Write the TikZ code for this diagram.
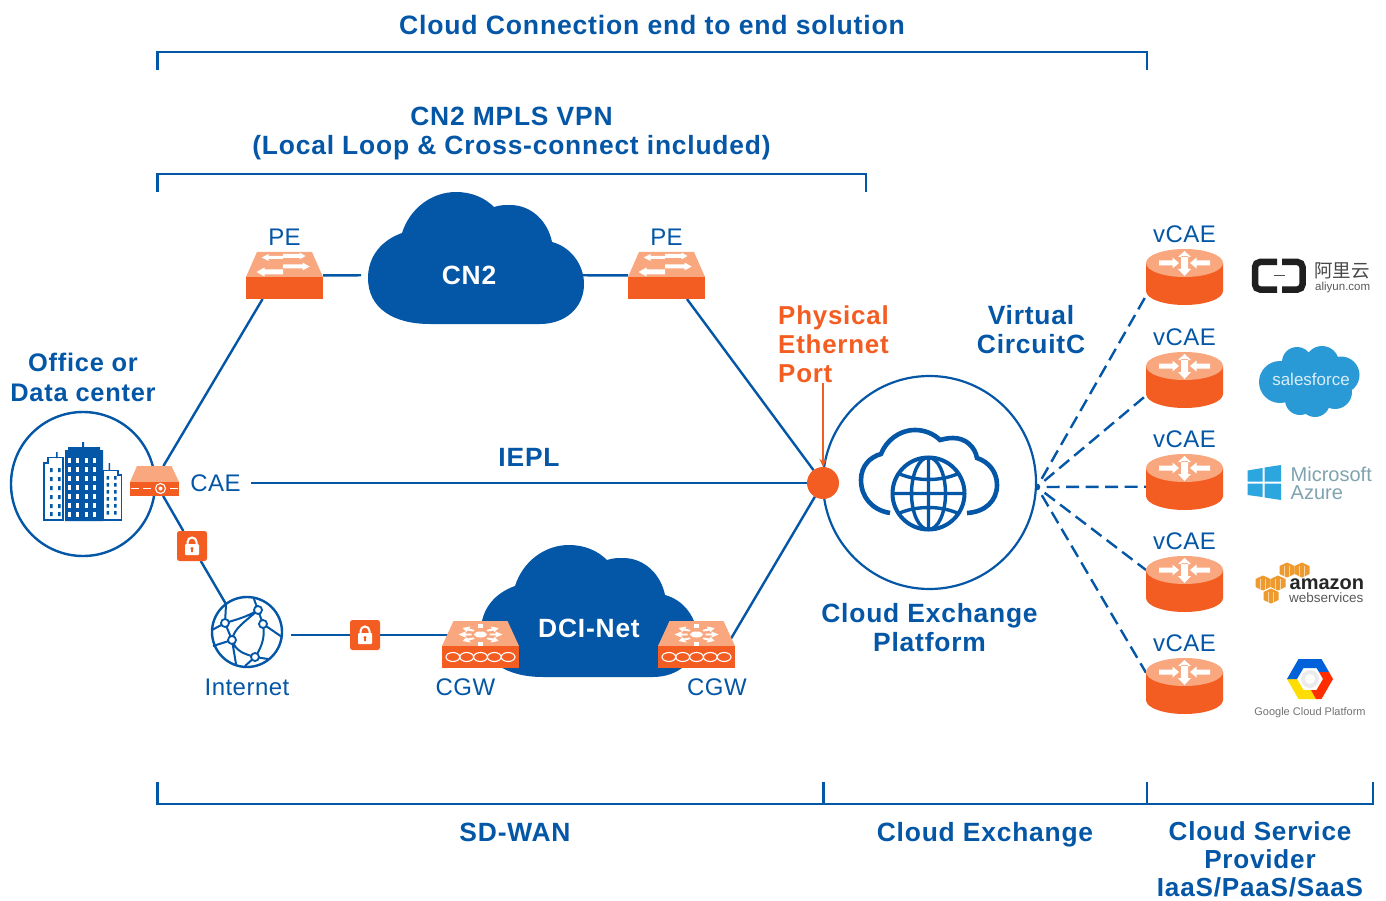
\documentclass[tikz,border=0pt]{standalone}
\usepackage{fontspec}
\usetikzlibrary{calc,arrows.meta}
\setmainfont{Liberation Sans}
\newfontfamily\lsb[LetterSpace=3]{Liberation Sans Bold}
\newfontfamily\lsr[LetterSpace=2]{Liberation Sans}
\newfontfamily\cjkf{Noto Sans CJK SC}
\definecolor{cblue}{HTML}{0456A6}
\definecolor{corange}{HTML}{F45D22}
\definecolor{clight}{HTML}{F9A77F}
\definecolor{sfblue}{HTML}{2A9AD6}
\definecolor{azblue}{HTML}{2BA6DE}
\definecolor{aztext}{HTML}{7FA3AF}
\definecolor{awsor}{HTML}{EE9A2E}
\pgfdeclarelayer{bg}
\pgfsetlayers{bg,main}
\tikzset{
  hit/.style 2 args={rectangle,inner sep=0pt,outer sep=0pt,minimum width=#1pt,minimum height=#2pt},
  boldlab/.style={font=\lsb\fontsize{26.4}{29.2}\selectfont,text=cblue,align=center,inner sep=0pt},
  reglab/.style={font=\lsr\fontsize{24}{28}\selectfont,text=cblue,align=center,inner sep=0pt},
  link/.style={draw=cblue,line width=2.4pt},
  vlink/.style={draw=cblue,line width=2.4pt,dash pattern=on 13pt off 6.5pt,dash phase=10pt},
  brk/.style={draw=cblue,line width=2.2pt},
  ring/.style={circle,draw=cblue,line width=2.4pt,inner sep=0pt,outer sep=0pt,fill=white},
  wline/.style={draw=white,line width=1.1pt},
  cloudshape/.pic={
    \fill[cblue] (-46,49) .. controls (-83,49) and (-108,33) .. (-108,3) .. controls (-108,-19) and (-94,-35) .. (-74,-42)
      .. controls (-66,-67) and (-44,-83) .. (-20,-83) .. controls (-4,-83) and (9,-77) .. (18,-68)
      .. controls (24,-70) and (29,-70) .. (34,-70) .. controls (56,-70) and (72,-53) .. (76,-33)
      .. controls (95,-28) and (108,-10) .. (108,9) .. controls (108,33) and (89,49) .. (64,49) -- cycle;
  },
  peicon/.pic={
    \fill[clight] (-38.5,1.5) -- (-27.5,-23.5) -- (27.5,-23.5) -- (38.5,1.5) -- cycle;
    \fill[corange] (-38.5,1.5) rectangle (38.5,23.5);
    \fill[white] (-1.5,-19.5) -- (-1.5,-16.5) -- (-16,-16.5) -- (-16,-14.5) -- (-23,-18) -- (-16,-21.5) -- (-16,-19.5) -- cycle;
    \fill[white] (-1.5,-21.5) rectangle (15,-17.5) (15,-23) -- (21,-19.5) -- (15,-16) -- cycle;
    \fill[white] (-1.5,-6) rectangle (-20,-1) (-20,-8) -- (-28,-3.5) -- (-20,1) -- cycle;
    \fill[white] (-1.5,-11) rectangle (18,-7) (18,-13) -- (25,-9) -- (18,-5) -- cycle;
  },
  cgwicon/.pic={
    \fill[clight] (-38.5,1.5) -- (-27,-23.5) -- (27,-23.5) -- (38.5,1.5) -- cycle;
    \fill[corange] (-38.5,1.5) rectangle (38.5,23.5);
    \fill[white] (0,-10) ellipse (6.5pt and 3pt);
    \fill[white] (9,-10.8) rectangle (15,-9.2) (15,-13) -- (22,-10) -- (15,-7) -- cycle;
    \fill[white] (-9,-10.8) rectangle (-15,-9.2) (-15,-13) -- (-22,-10) -- (-15,-7) -- cycle;
    \fill[white] (-2.5,-21) rectangle (2.5,-17);
    \fill[white] (-18,-16.5) -- (-10,-18) -- (-11.5,-16) -- (-6,-14.5) -- (-7,-13) -- (-13,-14) -- (-14,-12.5) -- cycle;
    \fill[white] (18,-16.5) -- (10,-18) -- (11.5,-16) -- (6,-14.5) -- (7,-13) -- (13,-14) -- (14,-12.5) -- cycle;
    \fill[white] (-18,-3.5) -- (-10,-2) -- (-11.5,-4) -- (-6,-5.5) -- (-7,-7) -- (-13,-6) -- (-14,-7.5) -- cycle;
    \fill[white] (18,-3.5) -- (10,-2) -- (11.5,-4) -- (6,-5.5) -- (7,-7) -- (13,-6) -- (14,-7.5) -- cycle;
    \fill[white] (-2.5,-3) rectangle (2.5,1);
    \foreach \x in {-27.6,-13.8,0,13.8,27.6}{\draw[wline] (\x,12.5) ellipse (6.9pt and 4.5pt);}
  },
  vcaeicon/.pic={
    \fill[corange] (-38.5,-14) -- (-38.5,14) arc[start angle=180,end angle=0,x radius=38.5,y radius=14] -- (38.5,-14) -- cycle;
    \fill[clight] (0,-14) ellipse (38.5pt and 14pt);
    \fill[white] (-25.5,-16.5) rectangle (-12,-11.5) (-12,-19.5) -- (-5.5,-14) -- (-12,-8.5) -- cycle;
    \fill[white] (25.5,-16.5) rectangle (12,-11.5) (12,-19.5) -- (5.5,-14) -- (12,-8.5) -- cycle;
    \fill[white] (-3.5,-21) rectangle (3.5,-7) (-6.5,-20) -- (0,-26) -- (6.5,-20) -- cycle (-6.5,-8) -- (0,-1) -- (6.5,-8) -- cycle;
  },
  lockicon/.pic={
    \fill[corange,rounded corners=2.5pt] (-15,-15) rectangle (15,15);
    \draw[white,line width=2pt] (-4.5,-1) -- (-4.5,-4) arc[start angle=180,end angle=360,radius=4.5] -- (4.5,-1);
    \fill[white,rounded corners=1pt] (-7,-2) rectangle (7,9);
    \fill[corange] (0,2.5) circle (1.7pt) (-.8,2.5) rectangle (.8,6);
  },
  awscube/.pic={
    \fill[awsor] (-7.5,-4) -- (0,-7.5) -- (7.5,-4) -- (7.5,4) -- (0,7.5) -- (-7.5,4) -- cycle;
    \draw[white!60!awsor,line width=.7pt] (-2.5,-4) -- (-2.5,6) (2.5,-4) -- (2.5,6);
  }
}
\begin{document}
\begin{tikzpicture}[x=1pt,y=-1pt]
\useasboundingbox (0,0) rectangle (1386,901);
\begin{pgfonlayer}{bg}
\fill[white] (0,0) rectangle (1386,901);
\end{pgfonlayer}

% --- brackets
\coordinate (b1a) at (157.5,70); \coordinate (b1b) at (157.5,52); \coordinate (b1c) at (1147,52); \coordinate (b1d) at (1147,70);
\draw[brk] (b1a) -- (b1b) -- (b1c) -- (b1d);
\coordinate (b2a) at (157.5,192); \coordinate (b2b) at (157.5,174); \coordinate (b2c) at (866,174); \coordinate (b2d) at (866,192);
\draw[brk] (b2a) -- (b2b) -- (b2c) -- (b2d);
\coordinate (b3a) at (157.5,782); \coordinate (b3b) at (157.5,804); \coordinate (b3c) at (1373,804); \coordinate (b3d) at (1373,782);
\coordinate (b3e) at (823.5,782); \coordinate (b3f) at (823.5,804); \coordinate (b3g) at (1147,782); \coordinate (b3h) at (1147,804);
\draw[brk] (b3a) -- (b3b) -- (b3c) -- (b3d) (b3e) -- (b3f) (b3g) -- (b3h);

% --- headings
\node[boldlab,font=\lsb\fontsize{26.6}{29.2}\selectfont] (title) at (652,24.5) {Cloud Connection end to end solution};
\node[boldlab] (mpls) at (511.5,133.5) {CN2 MPLS VPN\\(Local Loop \& Cross-connect included)};
\node[boldlab,font=\lsb\fontsize{25.4}{29.2}\selectfont] (office) at (83,377.5) {Office or\\Data center};
\node[boldlab] (iepl) at (529,457.5) {IEPL};
\node[boldlab,text=corange,align=left,anchor=west,font=\lsb\fontsize{25.9}{29.2}\selectfont] (phys) at (778,344) {Physical\\Ethernet\\Port};
\node[boldlab] (vc) at (1031,329.5) {Virtual\\CircuitC};
\node[boldlab] (cxp) at (929.5,627.5) {Cloud Exchange\\Platform};
\node[boldlab] (sdwan) at (515,832) {SD-WAN};
\node[boldlab] (cx) at (985,834.5) {Cloud Exchange};
\node[boldlab,font=\lsb\fontsize{26.1}{28}\selectfont] (csp) at (1260,859) {Cloud Service\\Provider\\IaaS/PaaS/SaaS};

% --- office circle + building
\node[ring,minimum size=144pt] (dc) at (83,484) {};
\fill[cblue] (65,450) rectangle (103,521) (68,447) rectangle (100,452) (82,442) rectangle (84,447);
\draw[cblue,line width=1.6pt,fill=white] (44,520) -- (44,463) -- (48,463) -- (48,457.5) -- (63,457.5) -- (63,520) -- cycle;
\draw[cblue,line width=1.6pt,fill=white] (103,520) -- (103,470.5) -- (118,470.5) -- (118,475) -- (121.5,475) -- (121.5,520) -- cycle;
\fill[cblue] (56,452) rectangle (57.5,458) (108.5,463) rectangle (110,470);
\foreach \y in {468,477,486,495,504,512}{\fill[cblue] (50,\y) rectangle (52.5,\y+4) (58,\y) rectangle (60.5,\y+4);}
\foreach \y in {476,483,490,497,504,511}{\fill[cblue] (106.5,\y) rectangle (109,\y+3.5) (114,\y) rectangle (116.5,\y+3.5);}
\foreach \x in {68,76,85,93}{\foreach \y in {458,467,476,485,494,503,512}{\fill[white] (\x,\y) rectangle (\x+3,\y+5);}}

% --- devices
\node[hit={49}{30}] (cae) at (154.5,481) {};
\fill[clight] (130,482) -- (137,466) -- (171.5,466) -- (179,482) -- cycle;
\fill[corange] (130,482) rectangle (179,496);
\draw[white,line width=1.1pt] (131,488.5) -- (139,488.5) (143,488.5) -- (151,488.5) (170,488.5) -- (178,488.5);
\draw[white,line width=1.1pt] (160.5,488.5) circle (5pt);
\fill[white] (160.5,488.5) circle (2pt);
\node[reglab] (caelbl) at (215.5,483) {CAE};
\coordinate (ieplstart) at (251,483);

\node[hit={77}{47}] (pe1) at (284.5,275.5) {};
\pic at (pe1) {peicon};
\node[reglab] (pe1l) at (284.5,237) {PE};
\node[hit={77}{47}] (pe2) at (666.5,275.5) {};
\pic at (pe2) {peicon};
\node[reglab] (pe2l) at (666.5,237) {PE};

\pic at (476,275) {cloudshape};
\node[hit={216}{132},font=\lsb\fontsize{26.4}{29}\selectfont,text=white] (cn2) at (469,275) {CN2};
\pic at (589,628) {cloudshape};
\node[hit={216}{132},font=\lsb\fontsize{26.4}{29}\selectfont,text=white] (dci) at (589,628) {DCI-Net};

\node[hit={77}{47}] (cgw1) at (480.5,644.5) {};
\pic at (cgw1) {cgwicon};
\node[reglab] (cgw1l) at (465.5,687) {CGW};
\node[hit={77}{47}] (cgw2) at (696.5,644.5) {};
\pic at (cgw2) {cgwicon};
\node[reglab] (cgw2l) at (717,687) {CGW};

\node[hit={30}{30}] (lock1) at (192,546) {};
\pic at (lock1) {lockicon};
\node[hit={30}{30}] (lock2) at (365,635) {};
\pic at (lock2) {lockicon};

% --- internet globe
\node[ring,minimum size=70pt] (inet) at (247,632) {};
\node[reglab] (inetl) at (247,687) {Internet};
\coordinate (ga) at (225,623); \coordinate (gb) at (258,610); \coordinate (gc) at (263,624);
\coordinate (gd) at (232,640); \coordinate (ge) at (255,657);
\draw[cblue,line width=2pt]
  (ga) .. controls (235,620) and (247,617) .. (258,610)
  (ga) -- (gd)
  (gd) .. controls (236,652) and (245,654) .. (255,657)
  (gc) .. controls (266,638) and (260,650) .. (255,657)
  (gc) -- (282,637)
  (gb) -- (263,624)
  (gb) .. controls (245,622) and (234,628) .. (232,640)
  (gb) -- (254,599)
  (ga) -- (226,605)
  (ga) -- (212,630)
  (gd) -- (236,664)
  (gd) -- (213,646)
  (ge) -- (268,659)
  (ge) -- (245,666);
\foreach \p in {ga,gb,gc,gd,ge}{\draw[cblue,line width=1.8pt,fill=white] (\p) circle (4pt);}

% --- port dot and platform
\node[ring,line width=2.2pt,minimum size=213pt] (plat) at (929.5,482.5) {};
\node[circle,fill=corange,inner sep=0pt,outer sep=0pt,minimum size=32pt] (dot) at (823,483) {};
\draw[corange,line width=2.2pt,-{Stealth[length=8pt,width=7pt]}] (dot.north |- phys.south) -- (dot.north);
% cloud + globe icon
\draw[cblue,line width=4.6pt] (890,513) .. controls (872,510) and (861,497) .. (861,480)
  .. controls (861,466) and (870,457) .. (881,454)
  .. controls (886,441) and (899,430) .. (915,430) .. controls (925,430) and (934,434) .. (940,440)
  .. controls (944,439) and (948,438) .. (953,438) .. controls (966,438) and (975,447) .. (977,458)
  .. controls (989,462) and (997,472) .. (997,485) .. controls (997,501) and (985,512) .. (967,513);
\fill[white] (928.5,493.5) circle (38pt);
\draw[cblue,line width=4pt] (928.5,493.5) circle (36pt);
\draw[cblue,line width=3.4pt] (928.5,493.5) ellipse (17pt and 36pt)
  (928.5,457.5) -- (928.5,529.5) (892.5,493.5) -- (964.5,493.5)
  (898.5,473.5) .. controls (916.5,481.5) and (940.5,481.5) .. (958.5,473.5)
  (898.5,513.5) .. controls (916.5,505.5) and (940.5,505.5) .. (958.5,513.5);

% --- vCAE
\foreach \n/\yt in {v1/249,v2/352,v3/454,v4/556,v5/658}{
  \node[hit={77}{56}] (\n) at (1184.5,\yt+28) {};
  \pic at (\n) {vcaeicon};
  \node[reglab] (\n l) at (1184.5,\yt-15) {vCAE};
}
\coordinate (hub) at (1037,487);

% --- connectors
\begin{pgfonlayer}{bg}
\draw[link] (cae) -- (pe1.227.5);
\draw[link] (pe1) -- (cn2);
\draw[link] (cn2) -- (pe2);
\draw[link] (pe2.311) -- (dot);
\draw[link] (ieplstart) -- (dot);
\draw[link] (dot) -- ($(cgw2)+(31,0)$);
\draw[link] (cae) -- (lock1) -- (inet.127);
\draw[link] ([xshift=9pt]inet.east |- lock2) -- (lock2) -- (lock2 -| cgw1);
\draw[vlink] (hub) -- (v1.206);
\draw[vlink] (hub) -- (v2.202.6);
\draw[vlink] (hub) -- (v3.187.4);
\draw[vlink] (hub) -- (v4.160);
\draw[vlink] (hub) -- (v5.161);
\end{pgfonlayer}

% --- logo: aliyun
\draw[black!88,line width=6.5pt,rounded corners=5pt] (1277,262) -- (1255,262) -- (1255,289.5) -- (1277,289.5);
\draw[black!88,line width=6.5pt,rounded corners=5pt] (1282,262) -- (1302.5,262) -- (1302.5,289.5) -- (1282,289.5);
\draw[black!70,line width=1pt] (1274,276) -- (1285,276);
\node[font=\cjkf\fontsize{18.5}{20}\selectfont,text=black!72,inner sep=0pt,anchor=west] (ali) at (1314,271) {阿里云};
\node[font=\fontsize{11.5}{12}\selectfont,text=black!65,inner sep=0pt,anchor=west] (alic) at (1315,287.5) {aliyun.com};
% --- logo: salesforce
\fill[sfblue] (1297,362) circle (15pt) (1322,363) circle (17pt) (1341,375) circle (18.5pt)
  (1280,382) circle (21pt) (1300,400) circle (15pt) (1315,402) circle (15pt) (1335,392) circle (17pt) (1310,380) circle (24pt);
\node[font=\fontsize{17}{18}\selectfont,text=white!82!sfblue,inner sep=0pt] (sf) at (1311,379) {salesforce};
% --- logo: azure
\fill[azblue] (1247.5,470.5) -- (1262.5,468) -- (1262.5,481.5) -- (1247.5,481.5) -- cycle
  (1264.5,467.5) -- (1281,465) -- (1281,481.5) -- (1264.5,481.5) -- cycle
  (1247.5,483.5) -- (1262.5,483.5) -- (1262.5,497) -- (1247.5,495) -- cycle
  (1264.5,483.5) -- (1281,483.5) -- (1281,500) -- (1264.5,497.5) -- cycle;
\node[font=\fontsize{20}{23}\selectfont,text=aztext,inner sep=0pt,anchor=west] (ms) at (1290.5,474) {Microsoft};
\node[font=\fontsize{20}{23}\selectfont,text=aztext,inner sep=0pt,anchor=west] (az) at (1290.5,493) {Azure};
% --- logo: aws
\foreach \x/\y in {1287/570,1302/570,1263/583,1278/583,1271/596}{\pic at (\x,\y) {awscube};}
\node[font=\bfseries\fontsize{20}{22}\selectfont,text=black!85,inner sep=0pt,anchor=west] (amz) at (1289.5,584) {amazon};
\node[font=\fontsize{13.5}{14}\selectfont,text=black!65,inner sep=0pt,anchor=west] (ws) at (1289,598) {webservices};
% --- logo: google
\fill[yellow!80!orange] (1287,679) -- (1298.5,699) -- (1318,699) -- (1312,690) -- (1303.5,690) -- (1297,679) -- cycle;
\fill[red!65!orange] (1333,679) -- (1321.5,699) -- (1316,699) -- (1311,690) -- (1316.5,690) -- (1323,679) -- cycle;
\fill[blue!55!cyan!85!black] (1298.5,659) -- (1321.5,659) -- (1329,672) -- (1319,672) -- (1316.5,668) -- (1303.5,668) -- (1297,679) -- (1287,679) -- cycle;
\fill[red!65!orange] (1329,672) -- (1333,679) -- (1323,679) -- (1319,672) -- cycle;
\fill[black!8] (1310,679) circle (9pt);
\fill[white] (1310,679) circle (5pt);
\node[font=\fontsize{11}{12}\selectfont,text=black!55,inner sep=0pt] (gcp) at (1310,713) {Google Cloud Platform};
\end{tikzpicture}
\end{document}
